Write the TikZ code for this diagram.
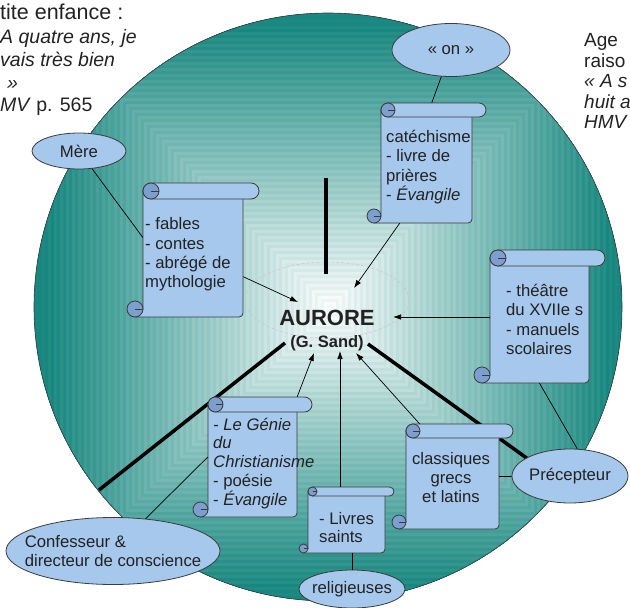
\documentclass[tikz,border=0pt]{standalone}
\usepackage{fontspec}
\setmainfont{Liberation Sans}
\usetikzlibrary{arrows.meta,shapes.geometric,fit}
\definecolor{sarcelle}{HTML}{17877F}
\definecolor{parch}{HTML}{A6C8EC}
\definecolor{roule}{HTML}{7C9FCF}
\definecolor{trait}{HTML}{3B3B3B}
\definecolor{encre}{HTML}{222222}
\newcommand\corps{\fontsize{16.7}{19.3}\selectfont}
\tikzset{bulle/.style={ellipse,draw=trait,fill=parch,line width=.8pt,inner sep=0,font=\corps,text=encre},
parcourt/.style={draw=trait,fill=parch,line width=.8pt},
boucle/.style={draw=trait,fill=roule,line width=.8pt},
lien/.style={black,line width=.7pt},
fleche/.style={-{Latex[length=8pt,width=5.5pt]},black,line width=.7pt},
rayon/.style={black,line width=3.5pt},
halo/.style={ellipse,draw=gray!45,dash pattern=on 3pt off 2pt,line width=.5pt,minimum width=164pt,minimum height=76pt},
texte/.style={font=\corps,text=encre,align=left,inner sep=0,anchor=north west}}
\newcommand\parchemin[6]{%
\filldraw[parcourt] (#2,{#5-#6}) -- (#2,{#3+#6}) -- (#4,{#3+#6}) -- (#4,{#5-4}) arc[start angle=0,end angle=90,radius=4] -- ({#2-#6},#5) -- ({#2-#6},{#5-#6}) -- cycle;
\filldraw[parcourt,rounded corners=#6pt] (#2,#3) rectangle ({#4+2*#6},{#3+2*#6});
\filldraw[boucle] ({#2+#6},{#3+#6}) circle[radius=#6pt];
\draw[trait,line width=.6pt] ({#2+#6},{#3+#6}) -- ({#2+2*#6},{#3+#6});
\filldraw[boucle] ({#2-#6},{#5-#6}) circle[radius=#6pt];
\draw[trait,line width=.6pt] ({#2-#6},{#5-#6}) -- (#2,{#5-#6});
\node[fit={(#2,#3) (#4,#5)},inner sep=0] (#1) {};}

\begin{document}
\begin{tikzpicture}[x=1pt,y=-1pt]
\useasboundingbox (0,0) rectangle (630,608);
\begin{scope}
\clip (328,307) circle[radius=294];
\foreach \i in {100,99,...,1}{
  \pgfmathsetmacro\pc{min(100,1.02*\i+5*mod(\i,2))}
  \fill[sarcelle!\pc!white] ({330-3*\i},{308-3*\i}) rectangle ({330+3*\i},{308+3*\i});
}
\end{scope}
\draw[trait,line width=.6pt] (328,307) circle[radius=294];
\node[halo] (cible) at (327,300) {};
\draw[rayon] (326,178) -- (326,274);
\draw[rayon] (285,343) -- (99,490);
\draw[rayon] (368,344) -- (560,482);

\parchemin{fables}{143}{183}{243}{317}{8}
\parchemin{catech}{381}{103}{472}{223}{7}
\parchemin{theatre}{490}{250}{589}{383}{8}
\parchemin{genie}{208}{397}{297}{517}{7.5}
\parchemin{livres}{308}{487}{385}{553}{4.5}
\parchemin{classiques}{406}{424}{499}{529}{7}

\node[texte] (fables-t) at (145,217.5) {- fables\\- contes\\- abrégé de\\mythologie};
\node[texte] (catech-t) at (386,130) {catéchisme\\- livre de\\prières\\- \textit{Évangile}};
\node[texte] (theatre-t) at (506,284) {- théâtre\\du XVIIe s\\- manuels\\scolaires};
\node[texte,font=\fontsize{16.7}{18.75}\selectfont] (genie-t) at (213,417.5) {\textit{- Le Génie}\\\textit{du}\\\textit{Christianisme}\\- poésie\\- \textit{Évangile}};
\node[texte,font=\fontsize{16.7}{18.3}\selectfont] (livres-t) at (319,511.7) {- Livres\\saints};
\node[texte,font=\fontsize{16.7}{18.7}\selectfont,anchor=north,align=center] (classiques-t) at (451,452.5) {classiques\\grecs\\et latins};
\node[font=\bfseries\fontsize{22}{22}\selectfont,align=center,anchor=north,inner sep=0,text=encre] (aurore) at (327,310) {AURORE\\{\fontsize{16.5}{22}\selectfont (G. Sand)}};

\node[texte,font=\fontsize{19.5}{22.7}\selectfont] (enfance) at (0,3.3) {{\fontsize{21.5}{22.7}\selectfont tite enfance :}\\[2pt]\textit{A quatre ans, je}\\\textit{vais très bien}\\\hspace*{7pt}\textit{»}\\\textit{MV} p. 565};
\node[texte,font=\fontsize{19}{20.5}\selectfont] (raison) at (584,33.5) {Age\\raiso\\\textit{« A s}\\\textit{huit a}\\\textit{HMV}};

\node[bulle,minimum width=94pt,minimum height=36pt] (mere) at (79,151) {Mère};
\node[bulle,minimum width=118pt,minimum height=53pt] (on) at (451,50) {« on »};
\node[bulle,minimum width=116pt,minimum height=54pt] (precepteur) at (570,476) {Précepteur};
\node[bulle,minimum width=214pt,minimum height=67pt,inner xsep=-15pt,align=left] (confesseur) at (113,551) {Confesseur \&\\directeur de conscience};
\node[bulle,minimum width=106pt,minimum height=38pt,inner xsep=-6pt] (religieuses) at (352,589) {religieuses};

\draw[lien] (mere) -- (fables.166);
\draw[lien] (on) -- (catech.85);
\draw[lien] (precepteur.75) -- (theatre.south);
\draw[lien] (classiques.east) -- (precepteur);
\draw[lien] (confesseur) -- (genie.west);
\draw[lien] (religieuses) -- (religieuses |- livres.south);

\coordinate (pfables) at (298,302);
\coordinate (pcatech) at (354,288);
\coordinate (ptheatre) at (393,317);
\coordinate (pgenie) at (314,353);
\coordinate (plivres) at (340,351);
\coordinate (pclass) at (356,353);
\draw[fleche] (fables.-28) -- (pfables);
\draw[fleche] (catech.-114) -- (pcatech);
\draw[fleche] (theatre.west |- ptheatre) -- (ptheatre);
\draw[fleche] (genie.north east) -- (pgenie);
\draw[fleche] (livres.north -| plivres) -- (plivres);
\draw[fleche] (classiques.122) -- (pclass);
\end{tikzpicture}
\end{document}
